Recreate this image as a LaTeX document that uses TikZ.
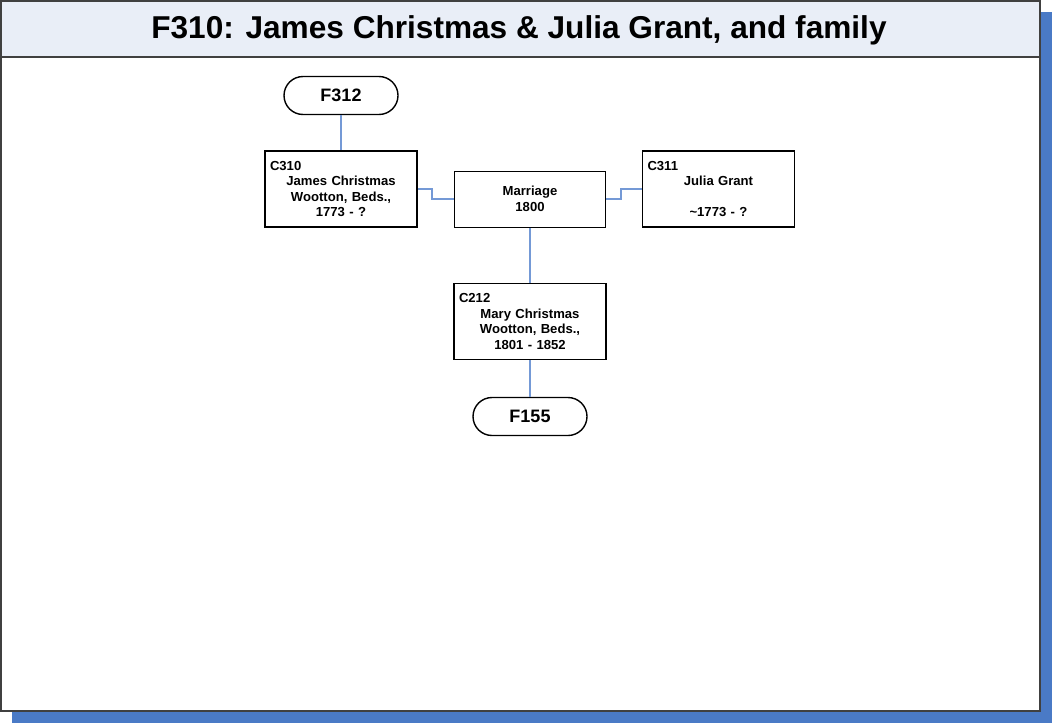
\documentclass[tikz,border=0pt]{standalone}
\usepackage{fontspec}
\setmainfont{Liberation Sans}
\usepackage{tikz}
\usetikzlibrary{positioning}
\definecolor{shadowblue}{RGB}{74,122,198}
\definecolor{titlefill}{RGB}{233,238,247}
\definecolor{linkblue}{RGB}{116,153,214}
\definecolor{framegray}{RGB}{64,64,64}

\begin{document}
\begin{tikzpicture}[x=1pt,y=-1pt,
    person/.style={draw,line width=1.6pt,minimum width=152pt,minimum height=76pt,
      text width=142pt,inner sep=4pt,font=\bfseries\fontsize{13.1}{15.6}\selectfont},
    event/.style={draw,line width=1pt,minimum width=151pt,minimum height=56pt,
      align=center,font=\bfseries\fontsize{13.1}{15.6}\selectfont},
    famlink/.style={draw,line width=1.4pt,rounded corners=19pt,minimum width=114pt,
      minimum height=38pt,font=\bfseries\fontsize{18}{22}\selectfont},
    link/.style={draw=linkblue,line width=1.4pt}]
        \useasboundingbox (0,0) rectangle (1052,723);
        % page frame
        \fill [shadowblue] (12,12) rectangle (1052,723);
        \draw [framegray,fill=white,line width=1.5pt] (1,1) rectangle (1040,711);
        \draw [framegray,fill=titlefill,line width=1.5pt] (1,1) rectangle (1040,57);
        \node (title) at (519,30) [font=\bfseries\fontsize{31.6}{38}\selectfont] {F310: James Christmas \& Julia Grant, and family};
        % family tree
        \node (f312) at (341,95.5) [famlink] {F312};
        \node (c310) at (341,189) [person] {\raggedright C310\par\centering James Christmas\\Wootton, Beds.,\\1773 - ?\par};
        \node (marr) at (530,199) [event] {Marriage\\1800};
        \node (c311) at (718.5,189) [person] {\raggedright C311\par\centering Julia Grant\\\mbox{}\\\textasciitilde1773 - ?\par};
        \node (c212) at (530,321.5) [person] {\raggedright C212\par\centering Mary Christmas\\Wootton, Beds.,\\1801 - 1852\par};
        \node (f155) at (530,416.5) [famlink] {F155};
        \draw [link] (f312)--(c310);
        \draw [link] (c310.east) -- ++(14,0) |- (marr.west);
        \draw [link] (marr.east) -- ++(15,0) |- (c311.west);
        \draw [link] (marr)--(c212)--(f155);
      \end{tikzpicture}
\end{document}
